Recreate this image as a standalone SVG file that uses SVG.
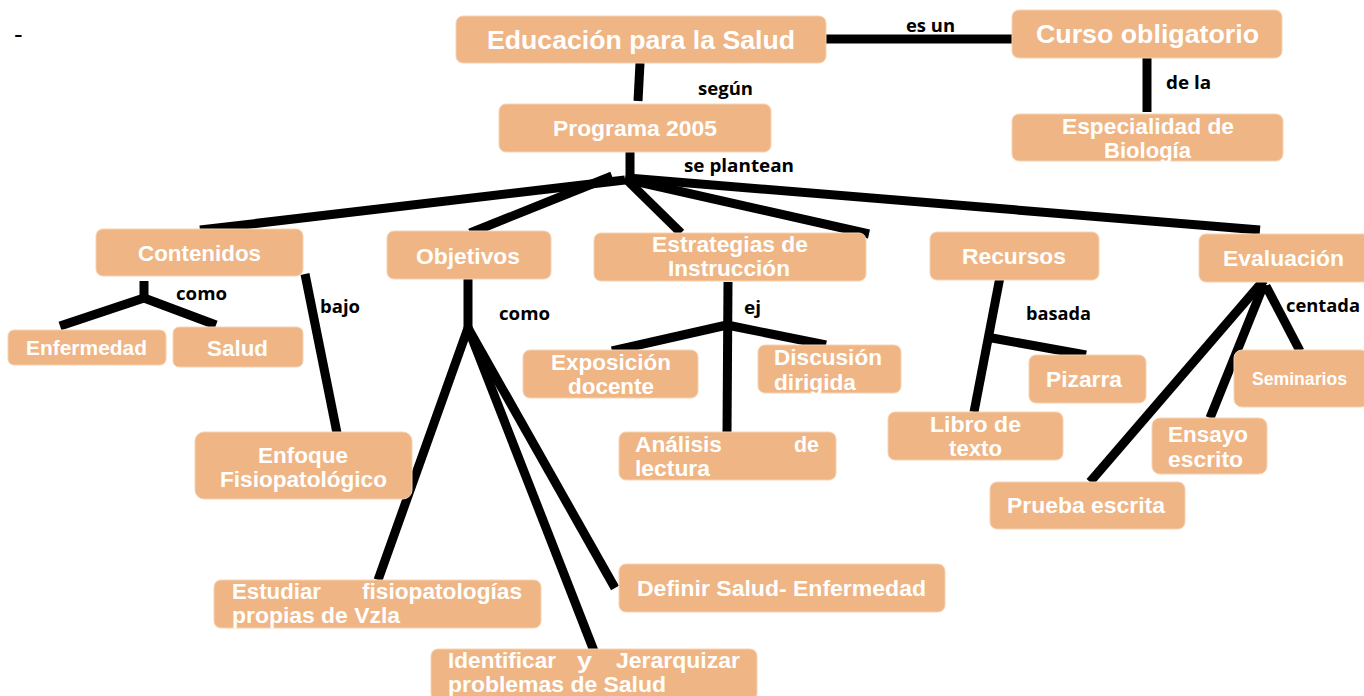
<svg xmlns="http://www.w3.org/2000/svg" width="1364" height="696" viewBox="0 0 1364 696">
<style>
.box{fill:#EFB584;stroke:#F6D3B3;stroke-width:1}
.t{font-family:"Liberation Sans",Arial,sans-serif;font-weight:bold;fill:#fff;font-size:22.5px}
.lbl{font-family:"Open Sans",Lato,sans-serif;font-weight:bold;fill:#000;font-size:18px}
.c{stroke:#000;stroke-width:9;fill:none;stroke-linecap:butt}
</style>
<rect width="1364" height="696" fill="#fff"/>
<text x="14" y="43" style="font-family:'Liberation Sans',sans-serif;font-size:26px;fill:#000">-</text>
<g id="connectors">
<path class="c" d="M640 63 L638 101"/>
<path class="c" d="M826 39 L1012 39"/>
<path class="c" d="M1147 58 L1147 112"/>
<path class="c" d="M630 152 L630 181"/>
<path class="c" d="M625 180 L200 230"/>
<path class="c" d="M612 176 L470 233"/>
<path class="c" d="M625 178 L681 233"/>
<path class="c" d="M625 179 L869 234"/>
<path class="c" d="M628 178 L1260 230"/>
<path class="c" d="M144 281 L144 301"/>
<path class="c" d="M144 298 L60 326"/>
<path class="c" d="M144 298 L216 325"/>
<path class="c" d="M305 274 L337 433"/>
<path class="c" d="M468 279 L468 330"/>
<path class="c" d="M468 328 L378 580"/>
<path class="c" d="M468 328 L594 651"/>
<path class="c" d="M468 328 L615 588"/>
<path class="c" d="M728 282 L727 433"/>
<path class="c" d="M727 325 L612 351"/>
<path class="c" d="M727 325 L826 345"/>
<path class="c" d="M1000 277 L974 412"/>
<path class="c" d="M992 338 L1086 355"/>
<path class="c" d="M1264 280 L1090 482"/>
<path class="c" d="M1264 284 L1210 418"/>
<path class="c" d="M1266 286 L1300 351"/>
</g>
<g id="labels">
<text class="lbl" x="906" y="32" textLength="49" lengthAdjust="spacingAndGlyphs">es un</text>
<text class="lbl" x="698" y="95" textLength="55" lengthAdjust="spacingAndGlyphs">según</text>
<text class="lbl" x="1166" y="89" textLength="45" lengthAdjust="spacingAndGlyphs">de la</text>
<text class="lbl" x="684" y="172" textLength="110" lengthAdjust="spacingAndGlyphs">se plantean</text>
<text class="lbl" x="176" y="300" textLength="51" lengthAdjust="spacingAndGlyphs">como</text>
<text class="lbl" x="320" y="313" textLength="40" lengthAdjust="spacingAndGlyphs">bajo</text>
<text class="lbl" x="499" y="320" textLength="51" lengthAdjust="spacingAndGlyphs">como</text>
<text class="lbl" x="744" y="314" textLength="17" lengthAdjust="spacingAndGlyphs">ej</text>
<text class="lbl" x="1026" y="320" textLength="65" lengthAdjust="spacingAndGlyphs">basada</text>
<text class="lbl" x="1286" y="312" textLength="74" lengthAdjust="spacingAndGlyphs">centada</text>
</g>
<g id="n-educacion"><rect class="box" x="456" y="16" width="370" height="47" rx="7"/><text class="t" x="487" y="49" textLength="308" lengthAdjust="spacingAndGlyphs" style="font-size:26.5px">Educación para la Salud</text></g>
<g id="n-curso"><rect class="box" x="1012" y="10" width="270" height="48" rx="7"/><text class="t" x="1036" y="43" textLength="223" lengthAdjust="spacingAndGlyphs" style="font-size:26.5px">Curso obligatorio</text></g>
<g id="n-especialidad"><rect class="box" x="1012" y="114" width="271" height="47" rx="7"/><text class="t" x="1062" y="134" textLength="172" lengthAdjust="spacingAndGlyphs">Especialidad de</text><text class="t" x="1104" y="158" textLength="87" lengthAdjust="spacingAndGlyphs">Biología</text></g>
<g id="n-programa"><rect class="box" x="499" y="104" width="272" height="48" rx="7"/><text class="t" x="553" y="136" textLength="164" lengthAdjust="spacingAndGlyphs">Programa 2005</text></g>
<g id="n-contenidos"><rect class="box" x="96" y="229" width="207" height="47" rx="7"/><text class="t" x="138" y="261" textLength="123" lengthAdjust="spacingAndGlyphs">Contenidos</text></g>
<g id="n-objetivos"><rect class="box" x="387" y="231" width="164" height="48" rx="7"/><text class="t" x="416" y="264" textLength="104" lengthAdjust="spacingAndGlyphs">Objetivos</text></g>
<g id="n-estrategias"><rect class="box" x="594" y="233" width="272" height="48" rx="7"/><text class="t" x="652" y="252" textLength="156" lengthAdjust="spacingAndGlyphs">Estrategias de</text><text class="t" x="668" y="276" textLength="122" lengthAdjust="spacingAndGlyphs">Instrucción</text></g>
<g id="n-recursos"><rect class="box" x="930" y="232" width="169" height="48" rx="7"/><text class="t" x="962" y="264" textLength="104" lengthAdjust="spacingAndGlyphs">Recursos</text></g>
<g id="n-evaluacion"><rect class="box" x="1199" y="234" width="175" height="48" rx="7"/><text class="t" x="1223" y="266" textLength="121" lengthAdjust="spacingAndGlyphs">Evaluación</text></g>
<g id="n-enfermedad"><rect class="box" x="8" y="330" width="158" height="35" rx="6"/><text class="t" x="26" y="355" textLength="121" lengthAdjust="spacingAndGlyphs" style="font-size:21px">Enfermedad</text></g>
<g id="n-salud"><rect class="box" x="173" y="327" width="130" height="40" rx="6"/><text class="t" x="207" y="356" textLength="61" lengthAdjust="spacingAndGlyphs">Salud</text></g>
<g id="n-enfoque"><rect class="box" x="195" y="432" width="217" height="67" rx="9"/><text class="t" x="258" y="463" textLength="90" lengthAdjust="spacingAndGlyphs">Enfoque</text><text class="t" x="220" y="487" textLength="167" lengthAdjust="spacingAndGlyphs">Fisiopatológico</text></g>
<g id="n-exposicion"><rect class="box" x="523" y="350" width="175" height="48" rx="7"/><text class="t" x="551" y="370" textLength="120" lengthAdjust="spacingAndGlyphs">Exposición</text><text class="t" x="568" y="394" textLength="86" lengthAdjust="spacingAndGlyphs">docente</text></g>
<g id="n-discusion"><rect class="box" x="758" y="345" width="143" height="48" rx="7"/><text class="t" x="774" y="365" textLength="108" lengthAdjust="spacingAndGlyphs">Discusión</text><text class="t" x="774" y="390" textLength="82" lengthAdjust="spacingAndGlyphs">dirigida</text></g>
<g id="n-analisis"><rect class="box" x="619" y="432" width="217" height="48" rx="7"/><text class="t" x="635" y="452" textLength="87" lengthAdjust="spacingAndGlyphs">Análisis</text><text class="t" x="794" y="452" textLength="25" lengthAdjust="spacingAndGlyphs">de</text><text class="t" x="635" y="476" textLength="75" lengthAdjust="spacingAndGlyphs">lectura</text></g>
<g id="n-pizarra"><rect class="box" x="1029" y="355" width="117" height="48" rx="7"/><text class="t" x="1046" y="387" textLength="76" lengthAdjust="spacingAndGlyphs">Pizarra</text></g>
<g id="n-libro"><rect class="box" x="888" y="412" width="175" height="48" rx="7"/><text class="t" x="930" y="432" textLength="91" lengthAdjust="spacingAndGlyphs">Libro de</text><text class="t" x="949" y="456" textLength="53" lengthAdjust="spacingAndGlyphs">texto</text></g>
<g id="n-seminarios"><rect class="box" x="1234" y="350" width="135" height="57" rx="8"/><text class="t" x="1252" y="385" textLength="95" lengthAdjust="spacingAndGlyphs" style="font-size:17.5px">Seminarios</text></g>
<g id="n-ensayo"><rect class="box" x="1152" y="418" width="115" height="56" rx="8"/><text class="t" x="1168" y="442" textLength="80" lengthAdjust="spacingAndGlyphs">Ensayo</text><text class="t" x="1168" y="467" textLength="75" lengthAdjust="spacingAndGlyphs">escrito</text></g>
<g id="n-prueba"><rect class="box" x="990" y="482" width="195" height="47" rx="7"/><text class="t" x="1007" y="513" textLength="158" lengthAdjust="spacingAndGlyphs">Prueba escrita</text></g>
<g id="n-estudiar"><rect class="box" x="214" y="580" width="327" height="48" rx="7"/><text class="t" x="232" y="599" textLength="89" lengthAdjust="spacingAndGlyphs">Estudiar</text><text class="t" x="362" y="599" textLength="160" lengthAdjust="spacingAndGlyphs">fisiopatologías</text><text class="t" x="232" y="623" textLength="168" lengthAdjust="spacingAndGlyphs">propias de Vzla</text></g>
<g id="n-definir"><rect class="box" x="619" y="564" width="326" height="48" rx="7"/><text class="t" x="637" y="596" textLength="289" lengthAdjust="spacingAndGlyphs">Definir Salud- Enfermedad</text></g>
<g id="n-identificar"><rect class="box" x="431" y="649" width="326" height="52" rx="7"/><text class="t" x="448" y="668" textLength="108" lengthAdjust="spacingAndGlyphs">Identificar</text><text class="t" x="577" y="668" textLength="15" lengthAdjust="spacingAndGlyphs">y</text><text class="t" x="616" y="668" textLength="124" lengthAdjust="spacingAndGlyphs">Jerarquizar</text><text class="t" x="448" y="692" textLength="218" lengthAdjust="spacingAndGlyphs">problemas de Salud</text></g>
</svg>
